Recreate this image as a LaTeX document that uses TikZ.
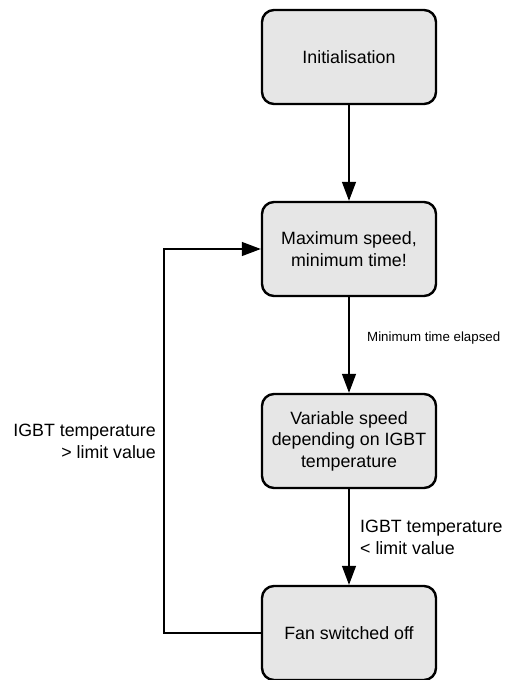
\documentclass[tikz,border=0pt]{standalone}
\usepackage{fontspec}
\setmainfont{Liberation Sans}
\usetikzlibrary{arrows.meta}
\definecolor{boxfill}{HTML}{E6E6E6}
\begin{document}
\begin{tikzpicture}[x=1pt,y=-1pt,
  state/.style={draw=black, fill=boxfill, line width=2.4pt, rounded corners=12pt,
    minimum width=174pt, minimum height=94pt, align=center,
    font=\fontsize{17.8}{21.5}\selectfont, inner sep=0pt},
  conn/.style={line width=1.3pt, -{Triangle[length=19pt,width=14pt]}},
  lbl/.style={font=\fontsize{17.8}{21.8}\selectfont, inner sep=0pt},
  small/.style={font=\fontsize{13.3}{16}\selectfont, inner sep=0pt}]
\useasboundingbox (0,0) rectangle (504,680);
\node[state] (init) at (349,57) {Initialisation};
\node[state] (max) at (349,249) {Maximum speed,\\minimum time!};
\node[state] (var) at (349,441) {Variable speed\\depending on IGBT\\temperature};
\node[state] (fan) at (349,633) {Fan switched off};
\coordinate (c1) at (164,633);
\coordinate (c2) at (164,249);
\draw[conn] (init) -- (max);
\draw[conn] (max) -- (var);
\draw[conn] (var) -- (fan);
\draw[conn] (fan.west) -- (c1) -- (c2) -- (max.west);
\node[small, anchor=west] (l1) at (367,338) {Minimum time elapsed};
\node[lbl, anchor=west, align=left] (l2) at (360,537) {IGBT temperature\\< limit value};
\node[lbl, anchor=east, align=right] (l3) at (156,441) {IGBT temperature\\> limit value};
\end{tikzpicture}
\end{document}
